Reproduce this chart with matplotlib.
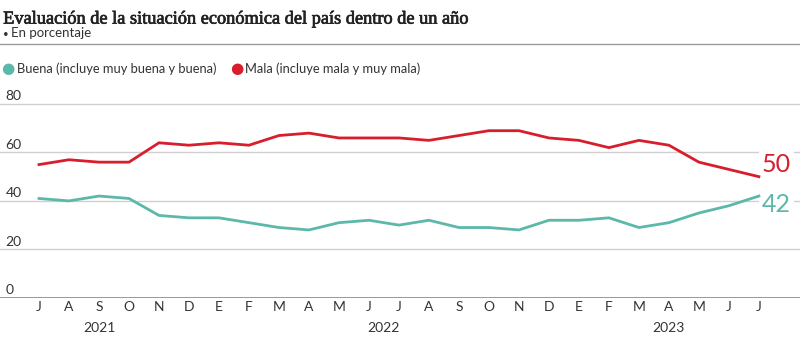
import matplotlib.pyplot as plt
import matplotlib.patheffects as pe
from matplotlib.lines import Line2D
from matplotlib.transforms import blended_transform_factory

# monthly survey, July 2021 - July 2023
months = ["J", "A", "S", "O", "N", "D",
          "E", "F", "M", "A", "M", "J", "J", "A", "S", "O", "N", "D",
          "E", "F", "M", "A", "M", "J", "J"]
years = ["2021", "2022", "2023"]
year_pos = [2, 11.5, 21]

buena = [41, 40, 42, 41, 34, 33, 33, 31, 29, 28, 31, 32,
         30, 32, 29, 29, 28, 32, 32, 33, 29, 31, 35, 38, 42]
mala = [55, 57, 56, 56, 64, 63, 64, 63, 67, 68, 66, 66,
        66, 65, 67, 69, 69, 66, 65, 62, 65, 63, 56, 53, 50]
y_ticks = [0, 20, 40, 60, 80]

RED = "#d81e2c"
TEAL = "#5cb8a9"
SANS = "Lato"

fig = plt.figure(figsize=(8, 3.47), dpi=100)

# header
fig.text(0.004, 0.932, "Evaluación de la situación económica del país dentro de un año",
         family="Liberation Serif", fontsize=13.2, color="#222222", va="baseline",
         path_effects=[pe.withStroke(linewidth=0.5, foreground="#222222")])
fig.text(0.004, 0.892, "•", family=SANS, fontsize=7, color="#333333", va="baseline")
fig.text(0.014, 0.892, "En porcentaje", family=SANS, fontsize=9.5,
         color="#333333", va="baseline")
fig.add_artist(Line2D([0, 1], [0.874, 0.874], transform=fig.transFigure,
                      color="#999999", lw=1))

# legend
fig.text(0.002, 0.803, "●", family="DejaVu Sans", fontsize=11, color=TEAL, va="center")
fig.text(0.021, 0.803, "Buena (incluye muy buena y buena)", family=SANS,
         fontsize=9.3, color="#333333", va="center")
fig.text(0.288, 0.803, "●", family="DejaVu Sans", fontsize=11, color=RED, va="center")
fig.text(0.306, 0.803, "Mala (incluye mala y muy mala)", family=SANS,
         fontsize=9.3, color="#333333", va="center")

ax = fig.add_axes([0, 0.142, 1, 0.593])
x = list(range(len(months)))
ax.set_xlim(-1.3, 25.37)
ax.set_ylim(0, 85)

for v in y_ticks[1:]:
    ax.axhline(v, color="#d0d0d0", lw=1, zorder=0)
ax.axhline(0, color="#888888", lw=1.2, zorder=1)

ytr = blended_transform_factory(fig.transFigure, ax.transData)
for v in y_ticks:
    ax.text(0.007, v + 0.7, str(v), transform=ytr, family=SANS, fontsize=10,
            color="#333333", va="bottom", ha="left")

ax.plot(x, mala, color=RED, lw=2, solid_joinstyle="round", zorder=3)
ax.plot(x, buena, color=TEAL, lw=2, solid_joinstyle="round", zorder=3)

# end labels
ax.text(x[-1] + 0.1, mala[-1] + 5.1, str(mala[-1]), family=SANS, fontsize=18,
        color=RED, va="center", ha="left",
        bbox=dict(facecolor="white", edgecolor="none", pad=2), zorder=2)
ax.text(x[-1] + 0.1, buena[-1] - 3.5, str(buena[-1]), family=SANS, fontsize=18,
        color=TEAL, va="center", ha="left",
        bbox=dict(facecolor="white", edgecolor="none", pad=2), zorder=2)

ax.set_xticks(x)
ax.set_xticklabels(months, family=SANS, fontsize=10, color="#333333")
ax.tick_params(axis="x", length=0, pad=2)
ax.set_yticks([])
for s in ax.spines.values():
    s.set_visible(False)

xtr = blended_transform_factory(ax.transData, fig.transFigure)
for yr, p in zip(years, year_pos):
    ax.text(p, 0.055, yr, transform=xtr, family=SANS, fontsize=10,
            color="#333333", ha="center", va="center")

fig.savefig("out.png", dpi=100)
